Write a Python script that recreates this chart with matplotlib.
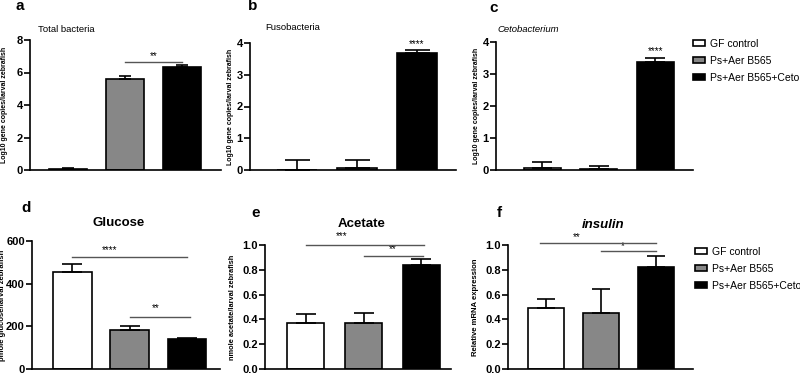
import matplotlib
matplotlib.use("Agg")
import matplotlib.pyplot as plt
from matplotlib.patches import Patch

plt.rcParams['font.family'] = ['Liberation Sans', 'DejaVu Sans']

groups = ["GF control", "Ps+Aer B565", "Ps+Aer B565+Ceto"]
colors = ["white", "#878787", "black"]

# panel values (mean, upward SEM)
total_bact = [0.05, 5.62, 6.32]
total_bact_err = [0.07, 0.15, 0.13]
fuso = [0.0, 0.05, 3.67]
fuso_err = [0.32, 0.27, 0.10]
ceto = [0.07, 0.04, 3.37]
ceto_err = [0.18, 0.08, 0.14]
glucose = [455, 185, 140]
glucose_err = [35, 15, 5]
acetate = [0.37, 0.37, 0.84]
acetate_err = [0.075, 0.085, 0.05]
insulin = [0.495, 0.455, 0.82]
insulin_err = [0.07, 0.19, 0.09]

W, H = 800, 375
fig = plt.figure(figsize=(W / 100, H / 100), dpi=100)


def make_ax(left, right, top, bottom):
    return fig.add_axes([left / W, 1 - bottom / H, (right - left) / W, (bottom - top) / H])


def style(ax, ymax, yticks, fmt, tsize):
    ax.set_ylim(0, ymax)
    ax.set_yticks(yticks)
    ax.set_yticklabels([fmt.format(t) for t in yticks], fontsize=tsize, fontweight='bold')
    ax.set_xticks([])
    for s in ['top', 'right']:
        ax.spines[s].set_visible(False)
    for s in ['left', 'bottom']:
        ax.spines[s].set_linewidth(1.2)
    ax.tick_params(axis='y', length=4, width=1.2, pad=1.2)


def bars(ax, vals, errs, width, cap):
    x = list(range(len(vals)))
    ax.bar(x, vals, width=width, color=colors, edgecolor='black', linewidth=1.2, zorder=2)
    ax.errorbar(x, vals, yerr=[[0] * len(errs), errs], fmt='none', ecolor='black',
                elinewidth=1.2, capsize=cap, capthick=1.2, zorder=3)


def sig(ax, x0, x1, y, text, tx, ty, fs=7):
    ax.plot([x0, x1], [y, y], color='#555555', lw=1, clip_on=False, zorder=4)
    ax.text(tx, ty, text, ha='center', va='bottom', fontsize=fs, clip_on=False)


def ylab(ax, text, xpx, axleft, axright, fs):
    ax.set_ylabel(text, fontsize=fs, fontweight='bold')
    ax.yaxis.set_label_coords((xpx - axleft) / (axright - axleft), 0.5)


# ---- a ----
ax = make_ax(30, 221, 40, 170)
bars(ax, total_bact, total_bact_err, 0.65, 4.5)
ax.set_xlim(-0.667, 2.684)
style(ax, 8, [0, 2, 4, 6, 8], "{:d}", 8)
ylab(ax, "Log10 gene copies/larval zebrafish", 8, 30, 221, 5)
sig(ax, 1, 2, 6.65, "**", 1.5, 6.7)

# ---- b ----
ax = make_ax(250, 456, 43, 170)
bars(ax, fuso, fuso_err, 0.67, 9)
ax.set_xlim(-0.78, 2.65)
style(ax, 4, [0, 1, 2, 3, 4], "{:d}", 8)
ylab(ax, "Log10 gene copies/larval zebrafish", 234, 250, 456, 5)
ax.text(2, 3.8, "****", ha='center', va='bottom', fontsize=7, clip_on=False)

# ---- c ----
ax = make_ax(496, 693, 42, 170)
bars(ax, ceto, ceto_err, 0.65, 7)
ax.set_xlim(-0.82, 2.67)
style(ax, 4, [0, 1, 2, 3, 4], "{:d}", 8)
ylab(ax, "Log10 gene copies/larval zebrafish", 480, 496, 693, 5)
ax.text(2, 3.56, "****", ha='center', va='bottom', fontsize=7, clip_on=False)

# ---- d ----
ax = make_ax(32, 220, 241, 369)
bars(ax, glucose, glucose_err, 0.67, 7)
ax.set_xlim(-0.70, 2.57)
style(ax, 600, [0, 200, 400, 600], "{:d}", 8)
ylab(ax, "pmole glucose/larval zebrafish", 6, 32, 220, 5.5)
sig(ax, 0, 2, 525, "****", 0.65, 535)
sig(ax, 1, 2.05, 246, "**", 1.45, 262)

# ---- e ----
ax = make_ax(265, 451, 245, 369)
bars(ax, acetate, acetate_err, 0.65, 7.5)
ax.set_xlim(-0.70, 2.51)
style(ax, 1.0, [0, 0.2, 0.4, 0.6, 0.8, 1.0], "{:.1f}", 8)
ylab(ax, "nmole acetate/larval zebrafish", 236, 265, 451, 5.3)
sig(ax, 0, 2.05, 1.0, "***", 0.62, 1.03)
sig(ax, 1, 2.02, 0.915, "**", 1.5, 0.925)

# ---- f ----
ax = make_ax(508, 693, 245, 369)
bars(ax, insulin, insulin_err, 0.65, 6.5)
ax.set_xlim(-0.69, 2.67)
style(ax, 1.0, [0, 0.2, 0.4, 0.6, 0.8, 1.0], "{:.1f}", 8)
ylab(ax, "Relative mRNA expression", 479, 508, 693, 5.6)
sig(ax, -0.1, 2, 1.02, "**", 0.56, 1.025)
sig(ax, 1, 2, 0.95, "*", 1.4, 0.955)

# titles
fig.text(38 / W, 1 - 30 / H, "Total bacteria", fontsize=6.8, ha='left', va='center')
fig.text(265 / W, 1 - 28 / H, "Fusobacteria", fontsize=6.8, ha='left', va='center')
fig.text(497 / W, 1 - 30 / H, "Cetobacterium", fontsize=6.8, ha='left', va='center', style='italic')
fig.text(119 / W, 1 - 223 / H, "Glucose", fontsize=9.5, fontweight='bold', ha='center', va='center')
fig.text(362 / W, 1 - 224 / H, "Acetate", fontsize=9.5, fontweight='bold', ha='center', va='center')
fig.text(603 / W, 1 - 225 / H, "insulin", fontsize=9.5, fontweight='bold', style='italic', ha='center', va='center')

# panel letters
for lab, xp, yp in [("a", 20, 6), ("b", 253, 6), ("c", 494, 8), ("d", 26, 208), ("e", 256, 213), ("f", 499, 213)]:
    fig.text(xp / W, 1 - yp / H, lab, fontsize=11, fontweight='bold', ha='center', va='center')

# legends
handles = [Patch(facecolor=c, edgecolor='black', linewidth=1.2) for c in colors]
for ytop, xl in [(39, 693), (247, 695)]:
    fig.legend(handles, groups, loc='upper left', bbox_to_anchor=(xl / W, 1 - ytop / H),
               frameon=False, fontsize=7.5, handlelength=1.15, handleheight=0.5,
               handletextpad=0.5, labelspacing=0.65, borderpad=0, borderaxespad=0)

fig.savefig("out.png", dpi=100)
